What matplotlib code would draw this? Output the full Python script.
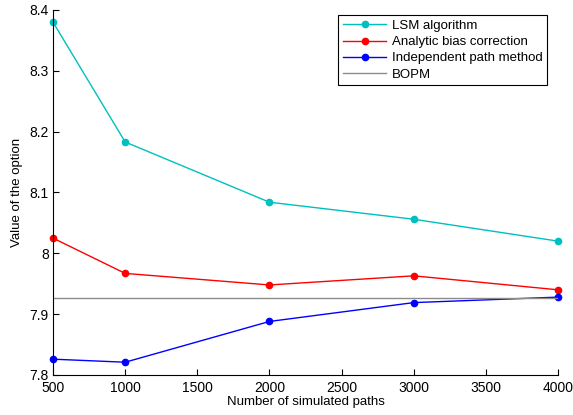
import matplotlib
matplotlib.use('Agg')
import matplotlib.pyplot as plt

plt.rcParams['font.family'] = ['Liberation Sans', 'DejaVu Sans']
plt.rcParams['font.size'] = 10

paths = [500, 1000, 2000, 3000, 4000]
lsm = [8.380, 8.183, 8.084, 8.056, 8.020]
bias_corr = [8.025, 7.967, 7.948, 7.963, 7.940]
indep_path = [7.826, 7.821, 7.888, 7.919, 7.928]
bopm = 7.926

fig = plt.figure(figsize=(5.73, 4.15), dpi=100)
ax = fig.add_axes([0.0925, 0.0964, 0.8815, 0.8796])

ax.plot(paths, lsm, color='#00bfbf', marker='o', markersize=4.5, lw=1,
        label='LSM algorithm', clip_on=False)
ax.plot(paths, bias_corr, color='red', marker='o', markersize=4.5, lw=1,
        label='Analytic bias correction', clip_on=False)
ax.plot(paths, indep_path, color='blue', marker='o', markersize=4.5, lw=1,
        label='Independent path method', clip_on=False)
ax.axhline(bopm, color='0.55', lw=1, label='BOPM')

ax.set_xlim(500, 4000)
ax.set_ylim(7.8, 8.4)
ax.set_xticks(range(500, 4001, 500))
ax.set_yticks([7.8, 7.9, 8.0, 8.1, 8.2, 8.3, 8.4])
ax.set_yticklabels(['7.8', '7.9', '8', '8.1', '8.2', '8.3', '8.4'])
ax.tick_params(direction='in', length=4, width=0.8, labelsize=10)
ax.tick_params(axis='x', pad=4)
ax.tick_params(axis='y', pad=3)
ax.spines['top'].set_visible(False)
ax.spines['right'].set_visible(False)
for s in ('left', 'bottom'):
    ax.spines[s].set_linewidth(0.8)
ax.set_xlabel('Number of simulated paths', fontsize=9.5, labelpad=1)
ax.set_ylabel('Value of the option', fontsize=9.5, labelpad=5)

leg = ax.legend(loc='upper right', bbox_to_anchor=(0.978, 0.986), fancybox=False,
                framealpha=1, edgecolor='black', borderpad=0.35, labelspacing=0.3,
                handlelength=3.3, handletextpad=0.4, borderaxespad=0, fontsize=9.5)
leg.get_frame().set_linewidth(0.8)

fig.savefig('out.png', dpi=100)
